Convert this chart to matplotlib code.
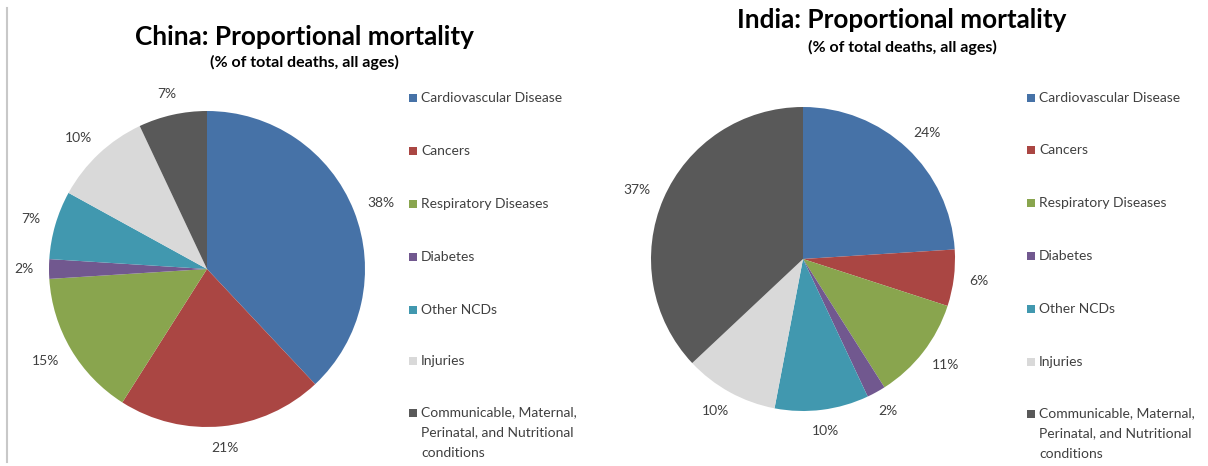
import numpy as np
import matplotlib
matplotlib.use("Agg")
import matplotlib.pyplot as plt
from matplotlib.patches import Rectangle
from matplotlib.lines import Line2D

# ---------------- data ----------------
categories = ["Cardiovascular Disease", "Cancers", "Respiratory Diseases", "Diabetes",
              "Other NCDs", "Injuries",
              "Communicable, Maternal,\nPerinatal, and Nutritional\nconditions"]
china_values = [38, 21, 15, 2, 7, 10, 7]
india_values = [24, 6, 11, 2, 10, 10, 37]
china_title = "China: Proportional mortality"
india_title = "India: Proportional mortality"
subtitle = "(% of total deaths, all ages)"
colors = ["#4672A7", "#AA4643", "#89A54E", "#71588F", "#4198AF", "#D9D9D9", "#595959"]

W, H = 1208, 466
plt.rcParams["font.family"] = ["Lato", "DejaVu Sans"]
fig = plt.figure(figsize=(W / 100, H / 100), dpi=100)
fig.patch.set_facecolor("white")

LABEL_COLOR = "#404040"


def fx(x):
    return x / W


def fy(y):
    return 1 - y / H


def draw_pie(values, cx, cy, r, title, title_xy, sub_xy, leg_x, leg_ys):
    ax = fig.add_axes([fx(cx - r), fy(cy + r), 2 * r / W, 2 * r / H])
    wedges, _ = ax.pie(values, colors=colors, startangle=90, counterclock=False,
                       radius=1, wedgeprops=dict(linewidth=0))
    ax.set_xlim(-1, 1)
    ax.set_ylim(-1, 1)
    ax.set_aspect("equal")
    ax.axis("off")
    renderer = fig.canvas.get_renderer()
    for w, v in zip(wedges, values):
        th = np.deg2rad((w.theta1 + w.theta2) / 2)
        c, s = np.cos(th), np.sin(th)
        t = ax.annotate(f"{v}%", xy=(1.10 * c, 1.10 * s), xytext=(0, 0),
                        textcoords="offset pixels", ha="center", va="center",
                        fontsize=10, color=LABEL_COLOR, annotation_clip=False)
        bb = t.get_window_extent(renderer)
        t.set_position((bb.width / 2 * c, bb.height / 2 * s))
    fig.text(fx(title_xy[0]), fy(title_xy[1]), title, ha="center", va="center",
             fontsize=18.8, fontweight="bold", color="black")
    fig.text(fx(sub_xy[0]), fy(sub_xy[1]), subtitle, ha="center", va="center",
             fontsize=11.5, fontweight="bold", color="black")
    # legend
    for cat, col, ly in zip(categories, colors, leg_ys):
        fig.patches.append(Rectangle((fx(leg_x), fy(ly + 4)), 8 / W, 8 / H,
                                     transform=fig.transFigure, facecolor=col,
                                     edgecolor="none"))
        multi = "\n" in cat
        fig.text(fx(leg_x + 12), fy(ly - 7) if multi else fy(ly), cat, ha="left",
                 va="top" if multi else "center",
                 fontsize=10, color=LABEL_COLOR, linespacing=1.86)


china_leg_y = [98, 151, 204, 257, 310, 361, 413]
india_leg_y = [98, 150, 203, 256, 309, 362, 414]

draw_pie(china_values, 207, 269, 158, china_title, (304, 37), (304, 62), 409, china_leg_y)
draw_pie(india_values, 803, 259, 152, india_title, (902, 20), (902, 47), 1027, india_leg_y)

fig.add_artist(Line2D([fx(7.5), fx(7.5)], [fy(8), fy(462)], transform=fig.transFigure,
                      color="#C8C8C8", linewidth=1.5))

fig.savefig("out.png", dpi=100, facecolor="white")
